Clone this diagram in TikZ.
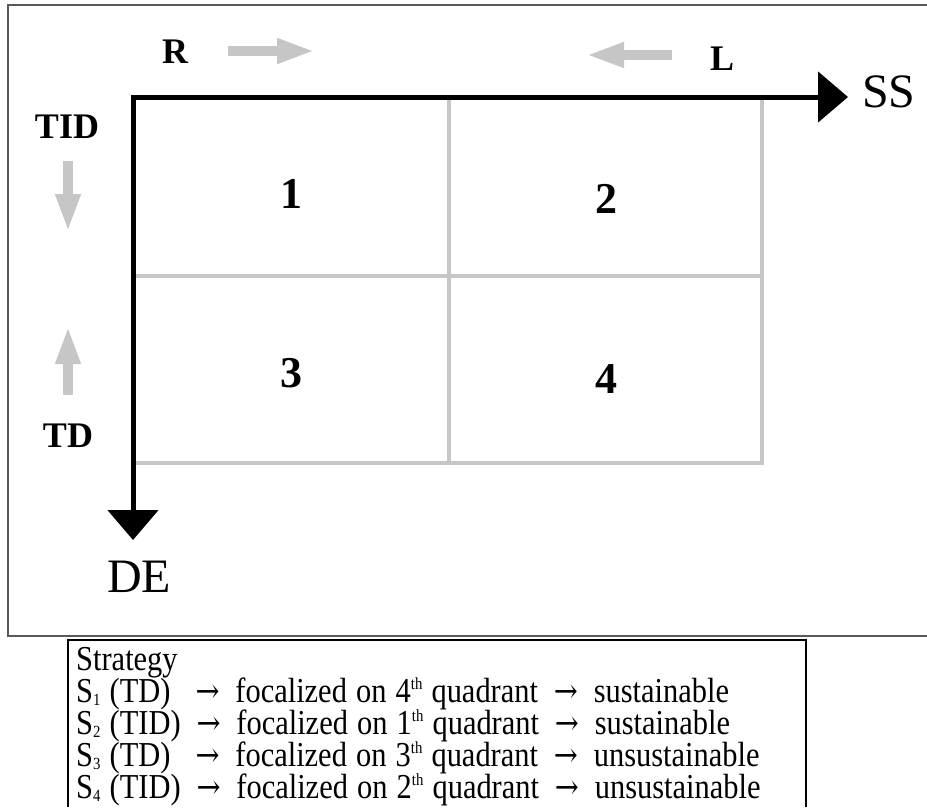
\documentclass[tikz,border=0pt]{standalone}
\usepackage{fontspec}
\setmainfont{Liberation Serif}
\newfontfamily\arrowfont{DejaVu Serif}
\usetikzlibrary{arrows.meta}
\definecolor{gridgray}{HTML}{C6C6C6}
\definecolor{framegray}{HTML}{595959}

\begin{document}
\begin{tikzpicture}[x=1pt,y=-1pt,line join=miter]
\newcommand{\lblfont}{\fontsize{36}{40}\selectfont\bfseries}
\newcommand{\numfont}{\fontsize{44}{48}\selectfont\bfseries}
\newcommand{\axfont}{\fontsize{48}{52}\selectfont}
\newcommand{\legfont}{\fontsize{35}{32}\selectfont\spaceskip=0.3em\relax}
\newcommand{\legline}[1]{\scalebox{0.87}[1]{#1}}
\newcommand{\lowidx}[1]{\raisebox{-0.1em}{\fontsize{17}{17}\selectfont #1}}
\newcommand{\highidx}[1]{\raisebox{0.36em}{\fontsize{17}{17}\selectfont #1}}
\newcommand{\goesto}{\hspace{0.22em}{\arrowfont\fontsize{33}{32}\selectfont →}\hspace{0.22em}}
\tikzset{gridline/.style={draw=gridgray,line width=4.5pt},
  shiftarrow/.style={draw=gridgray,line width=10pt,-{Triangle[length=38pt,width=23pt]}},
  axisline/.style={line width=5pt,{Triangle[length=30pt,width=50pt]}-{Triangle[length=30pt,width=50pt]}}}
\useasboundingbox (0,0) rectangle (927,807);
% frames
\draw[framegray,line width=2pt] (927,5) -- (8,5) -- (8,636) -- (927,636);
\draw[line width=1.5pt] (68,807) -- (68,640) -- (806,640) -- (806,807);
% grid
\coordinate (O) at (133,97);
\coordinate (g_tm) at (449,97);
\coordinate (g_tr) at (762,97);
\coordinate (g_ml) at (133,276);
\coordinate (g_mr) at (762,276);
\coordinate (g_bl) at (133,463);
\coordinate (g_bm) at (449,463);
\coordinate (g_br) at (762,463);
\draw[gridline] (g_tm) -- (g_bm);
\draw[gridline] (g_tr) -- (g_br) -- (g_bl);
\draw[gridline] (g_ml) -- (g_mr);
% axes
\coordinate (SS_end) at (848,97);
\coordinate (DE_end) at (133,540);
\draw[axisline] (DE_end) -- (O) -- (SS_end);
\node[anchor=base west,font=\axfont,inner sep=0pt] (SS) at (862,107) {SS};
\node[anchor=base,font=\axfont,inner sep=0pt] (DE) at (139,592) {DE};
% quadrants
\begin{scope}
\tikzstyle{every node}=[anchor=base,font=\numfont,inner sep=0pt]
\node (q_1) at (291,208) {1};
\node (q_2) at (606,213) {2};
\node (q_3) at (291,387) {3};
\node (q_4) at (606,393) {4};
\end{scope}
% moves
\begin{scope}
\tikzstyle{every node}=[anchor=base,font=\lblfont,inner sep=0pt]
\node (R) at (175,63) {R};
\node (L) at (722,70) {L};
\node (TID) at (67,138) {TID};
\node (TD) at (68,447) {TD};
\end{scope}
\coordinate (R_a) at (228,51);
\coordinate (R_b) at (315,51);
\coordinate (L_a) at (672,55);
\coordinate (L_b) at (586,55);
\coordinate (TID_a) at (68,161);
\coordinate (TID_b) at (68,232);
\coordinate (TD_a) at (68,395);
\coordinate (TD_b) at (68,326);
\draw[shiftarrow] (R_a) -- (R_b);
\draw[shiftarrow] (L_a) -- (L_b);
\draw[shiftarrow] (TID_a) -- (TID_b);
\draw[shiftarrow] (TD_a) -- (TD_b);
% strategy box
\begin{scope}
\tikzstyle{every node}=[anchor=base west,font=\legfont,inner sep=0pt,text height=22pt,text depth=6pt]
\node (S_0) at (76,670) {\legline{Strategy}};
\node (S_1) at (76,702) {\legline{S\lowidx{1} (TD)\ \ \goesto{} focalized on 4\highidx{th} quadrant \goesto{} sustainable}};
\node (S_2) at (76,734) {\legline{S\lowidx{2} (TID) \goesto{} focalized on 1\highidx{th} quadrant \goesto{} sustainable}};
\node (S_3) at (76,766) {\legline{S\lowidx{3} (TD)\ \ \goesto{} focalized on 3\highidx{th} quadrant \goesto{} unsustainable}};
\node (S_4) at (76,798) {\legline{S\lowidx{4} (TID) \goesto{} focalized on 2\highidx{th} quadrant \goesto{} unsustainable}};
\end{scope}
\end{tikzpicture}
\end{document}
